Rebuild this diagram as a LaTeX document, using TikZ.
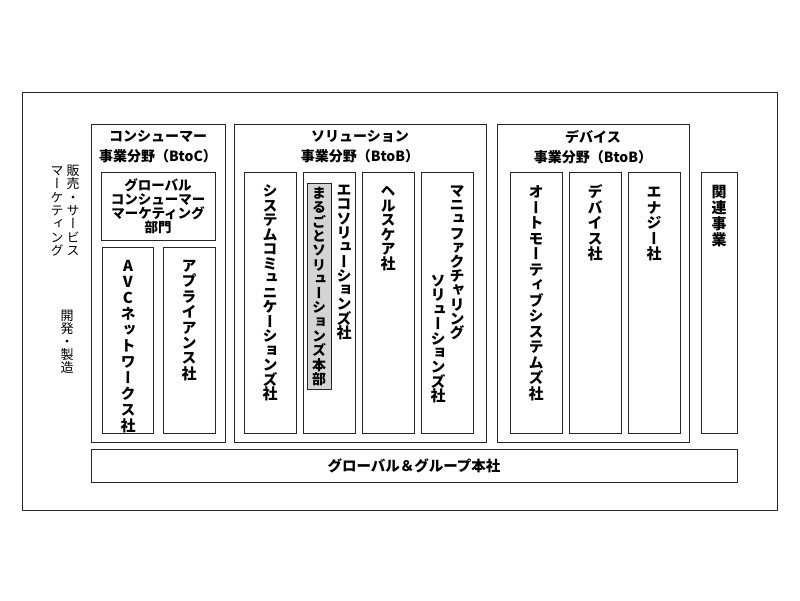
\documentclass[tikz,border=0pt]{standalone}
\usepackage{fontspec}
\newfontfamily\jp{Noto Sans CJK JP}
\newfontfamily\vjp[RawFeature=+vert]{Noto Sans CJK JP}
\makeatletter
\newcommand\vstk[3]{\vbox{\offinterlineskip #2\@tfor\vch:=#3\do{\hbox to 1.3em{\hss\vrule height .86\dimexpr#1\relax depth .14\dimexpr#1\relax width 0pt\smash{\vch}\hss}}}}
\makeatother
\newcommand\vbold{\vjp\bfseries\fontsize{15pt}{16pt}\selectfont}
\newcommand\vreg{\vjp\fontsize{13pt}{14pt}\selectfont}
\tikzset{
  box/.style={draw=black!85, line width=1pt, anchor=north west, inner sep=0pt},
  vtxt/.style={anchor=north, inner sep=0pt},
  htxt/.style={inner sep=0pt, align=center, font=\jp\bfseries\fontsize{14pt}{20pt}\selectfont},
}
\begin{document}
\begin{tikzpicture}[x=1pt,y=-1pt]
\useasboundingbox (0,0) rectangle (800,600);
\node[box, minimum width=755pt, minimum height=418pt] (outer) at (22,92) {};
% consumer
\node[box, minimum width=134pt, minimum height=318pt] (cons) at (91,124) {};
\node[box, minimum width=114pt, minimum height=68pt] (gcm) at (101,172) {};
\node[box, minimum width=51pt, minimum height=186pt] (avc) at (102,247) {};
\node[box, minimum width=52pt, minimum height=186pt] (appl) at (163,247) {};
% solution
\node[box, minimum width=252pt, minimum height=318pt] (sol) at (234,124) {};
\node[box, minimum width=52pt, minimum height=261pt] (sys) at (244,172) {};
\node[box, minimum width=52pt, minimum height=261pt] (eco) at (303,172) {};
\node[box, minimum width=52pt, minimum height=261pt] (hlth) at (362,172) {};
\node[box, minimum width=52pt, minimum height=261pt] (manu) at (421,172) {};
\node[box, fill=black!17, minimum width=24pt, minimum height=206pt] (maru) at (307,183) {};
% device
\node[box, minimum width=192pt, minimum height=318pt] (dev) at (497,124) {};
\node[box, minimum width=52pt, minimum height=261pt] (auto) at (510,172) {};
\node[box, minimum width=52pt, minimum height=261pt] (devc) at (569,172) {};
\node[box, minimum width=52pt, minimum height=261pt] (ene) at (628,172) {};
\node[box, minimum width=36pt, minimum height=261pt] (rel) at (701,172) {};
\node[box, minimum width=646pt, minimum height=33pt] (hq) at (91,449) {};
% headers
\node[htxt] (tcons) at (158,147) {コンシューマー\\事業分野（BtoC）};
\node[htxt] (tsol) at (360,147) {ソリューション\\事業分野（BtoB）};
\node[htxt] (tdev) at (593,147) {デバイス\\事業分野（BtoB）};
\node[htxt, font=\jp\bfseries\fontsize{13.5pt}{14pt}\selectfont] (tgcm) at (158,206) {グローバル\\コンシューマー\\マーケティング\\部門};
\node[htxt, font=\jp\bfseries\fontsize{14.5pt}{16pt}\selectfont] (thq) at (414,465.5) {グローバル＆グループ本社};
% vertical texts
\node[vtxt] (tavc) at (128,258) {\vstk{16pt}{\vbold}{AVCネットワークス社}};
\node[vtxt] (tappl) at (189,258) {\vstk{15.4pt}{\vbold}{アプライアンス社}};
\node[vtxt] (tsys) at (270,184) {\vstk{14.5pt}{\vbold}{システムコミュニケーションズ社}};
\node[vtxt] (tmaru) at (319,186) {\vstk{14.3pt}{\vjp\bfseries\fontsize{14pt}{16pt}\selectfont}{まるごとソリューションズ本部}};
\node[vtxt] (teco) at (344,183) {\vstk{14.3pt}{\vbold}{エコソリューションズ社}};
\node[vtxt] (thlth) at (388,184) {\vstk{14.5pt}{\vbold}{ヘルスケア社}};
\node[vtxt] (tmanu1) at (457,184) {\vstk{14.2pt}{\vbold}{マニュファクチャリング}};
\node[vtxt] (tmanu2) at (438,274) {\vstk{14.4pt}{\vbold}{ソリューションズ社}};
\node[vtxt] (tauto) at (536,184) {\vstk{15.5pt}{\vbold}{オートモーティブシステムズ社}};
\node[vtxt] (tdevc) at (595,184) {\vstk{15.5pt}{\vbold}{デバイス社}};
\node[vtxt] (tene) at (654,184) {\vstk{15.5pt}{\vbold}{エナジー社}};
\node[vtxt] (trel) at (719,184) {\vstk{16pt}{\vbold}{関連事業}};
% left labels
\node[vtxt] (thanbai) at (73,164) {\vstk{13.3pt}{\vreg}{販売・サービス}};
\node[vtxt] (tmkt) at (57,164) {\vstk{13.3pt}{\vreg}{マーケティング}};
\node[vtxt] (tkai) at (67,309) {\vstk{13pt}{\vreg}{開発・製造}};
\end{tikzpicture}
\end{document}
